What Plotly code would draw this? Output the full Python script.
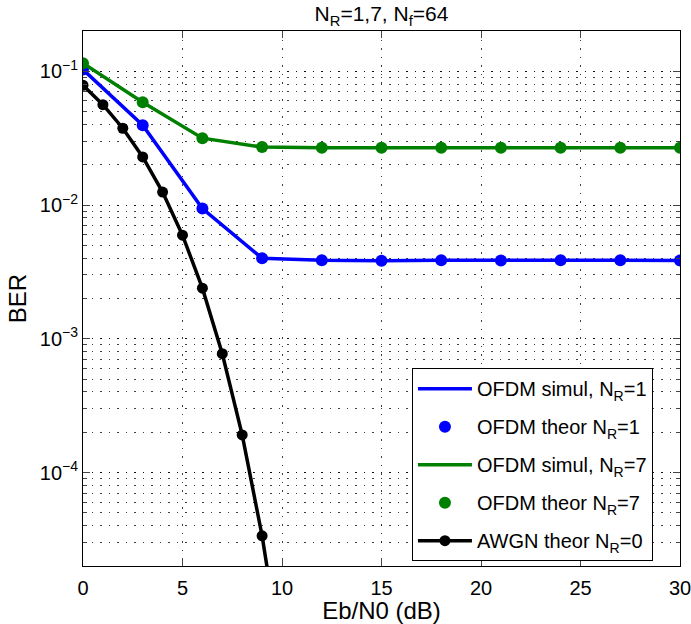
import plotly.graph_objects as go

# ---- data ----
snr_ofdm = [0, 3, 6, 9, 12, 15, 18, 21, 24, 27, 30]
ber_sim_nr1 = [0.103, 0.0395, 0.0094, 0.0040, 0.00386, 0.00383, 0.00387, 0.00385, 0.00386, 0.00387, 0.00384]
ber_theo_nr1 = [0.103, 0.0395, 0.0094, 0.0040, 0.00386, 0.00383, 0.00387, 0.00385, 0.00386, 0.00387, 0.00384]
ber_sim_nr7 = [0.115, 0.0587, 0.0316, 0.0271, 0.0268, 0.0268, 0.0268, 0.0268, 0.0268, 0.0268, 0.0268]
ber_theo_nr7 = [0.115, 0.0587, 0.0316, 0.0271, 0.0268, 0.0268, 0.0268, 0.0268, 0.0268, 0.0268, 0.0268]
snr_awgn = [0, 1, 2, 3, 4, 5, 6, 7, 8, 9, 10]
ber_awgn = [0.0786, 0.0563, 0.0375, 0.0229, 0.0125, 0.00595, 0.00239, 0.000773, 0.000191, 3.36e-5, 3.87e-6]

x_ticks = [0, 5, 10, 15, 20, 25, 30]
y_ticks = [1e-4, 1e-3, 1e-2, 1e-1]
y_ticklabels = ["10<sup>\u22124</sup>", "10<sup>\u22123</sup>", "10<sup>\u22122</sup>", "10<sup>\u22121</sup>"]

FONT = "Liberation Sans, Arial, Helvetica, sans-serif"
BLUE = "#0000ff"
GREEN = "#008000"
BLACK = "#000000"

fig = go.Figure()
fig.add_trace(go.Scatter(x=snr_ofdm, y=ber_sim_nr1, mode="lines",
                         line=dict(color=BLUE, width=3.5),
                         name="OFDM simul, N<sub>R</sub>=1", legendgroup="a"))
fig.add_trace(go.Scatter(x=snr_ofdm, y=ber_theo_nr1, mode="markers",
                         marker=dict(color=BLUE, size=12),
                         name="OFDM theor N<sub>R</sub>=1", legendgroup="b"))
fig.add_trace(go.Scatter(x=snr_ofdm, y=ber_sim_nr7, mode="lines",
                         line=dict(color=GREEN, width=3.5),
                         name="OFDM simul, N<sub>R</sub>=7", legendgroup="c"))
fig.add_trace(go.Scatter(x=snr_ofdm, y=ber_theo_nr7, mode="markers",
                         marker=dict(color=GREEN, size=12),
                         name="OFDM theor N<sub>R</sub>=7", legendgroup="d"))
fig.add_trace(go.Scatter(x=snr_awgn, y=ber_awgn, mode="lines+markers",
                         line=dict(color=BLACK, width=3.5),
                         marker=dict(color=BLACK, size=11),
                         name="AWGN theor N<sub>R</sub>=0", legendgroup="e"))

GRID_DASH = "1.5px,7px"
GRID_COLOR = "rgba(0,0,0,0.75)"

fig.update_layout(
    width=691, height=624,
    margin=dict(l=83, r=11, t=31, b=58),
    paper_bgcolor="white", plot_bgcolor="white",
    font=dict(family=FONT, size=20, color="black"),
    title=dict(text="N<sub>R</sub>=1,7, N<sub>f</sub>=64", x=0.5, xref="paper", xanchor="center",
               y=1 - 14 / 624, yanchor="middle", font=dict(size=21)),
    showlegend=True,
    legend=dict(x=0.551, y=0.009, xanchor="left", yanchor="bottom",
                bgcolor="white", bordercolor="black", borderwidth=1,
                font=dict(size=20), traceorder="grouped", tracegroupgap=9,
                itemwidth=54),
    xaxis=dict(range=[0, 30], tickvals=x_ticks, ticks="inside", ticklen=7,
               showline=True, linecolor="black", linewidth=1, mirror="ticks",
               showgrid=True, gridcolor=GRID_COLOR, griddash=GRID_DASH, gridwidth=1,
               zeroline=False, automargin=False, ticklabeloverflow="allow",
               ticklabelstandoff=4,
               title=dict(text="Eb/N0 (dB)", standoff=0)),
    yaxis=dict(type="log", range=[-4.69897, -0.69897], tickvals=y_ticks, ticktext=y_ticklabels,
               ticks="inside", ticklen=7,
               showline=True, linecolor="black", linewidth=1, mirror="allticks",
               showgrid=True, gridcolor=GRID_COLOR, griddash=GRID_DASH, gridwidth=1,
               zeroline=False, automargin=False, ticklabeloverflow="allow",
               minor=dict(dtick="D1", ticks="inside", ticklen=4, showgrid=True,
                          gridcolor=GRID_COLOR, griddash=GRID_DASH, gridwidth=1),
               title=dict(text="BER", standoff=6)),
)

fig.write_html("out.html", config={"displayModeBar": False},
               post_script="document.body.style.margin='0';document.body.style.overflow='hidden';")
